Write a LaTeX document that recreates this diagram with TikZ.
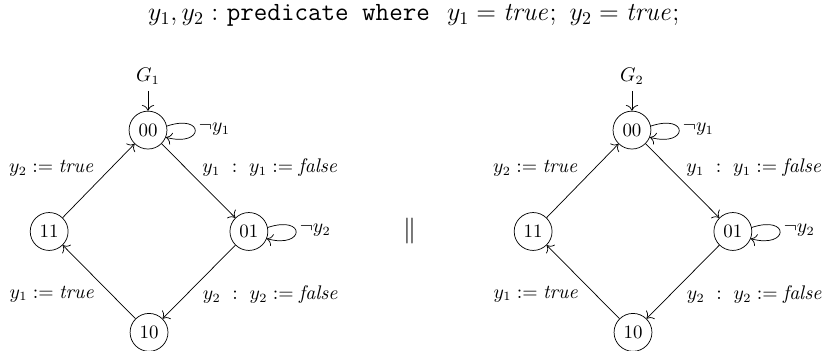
\documentclass[tikz,border=0pt]{standalone}
\usetikzlibrary{positioning, arrows.meta}

\begin{document}
\begin{tikzpicture}[>={To[scale=1.3]},
    every node/.style={font=\fontsize{10.5}{12.6}\selectfont},
    state/.style={circle, draw, thin, minimum size=0.74cm, inner sep=0pt},
    trans/.style={->, thin},
    lbl/.style={inner sep=2pt},
    big/.style={font=\fontsize{14.6}{17.5}\selectfont}]

    \useasboundingbox (0,0) rectangle (16.07,6.84);

    \node[big] (title) at (8.08, 6.54) {$y_1, y_2 :$ \texttt{predicate where}\ \ $y_1 = \mathit{true};\ y_2 = \mathit{true};$};

    % first component
    \node[state] (a00) at (2.89, 4.30) {00};
    \node[state] (a11) at (0.96, 2.32) {11};
    \node[state] (a01) at (4.86, 2.32) {01};
    \node[state] (a10) at (2.91, 0.35) {10};
    \node (g1) at (2.89, 5.35) {$G_1$};

    \draw[trans] (g1) -- (a00);
    \draw[trans] (a00) -- (a01) node[midway, above right, lbl] {$y_1\ :\ y_1 := \mathit{false}$};
    \draw[trans] (a01) -- (a10) node[midway, below right, lbl] {$y_2\ :\ y_2 := \mathit{false}$};
    \draw[trans] (a10) -- (a11) node[midway, below left, lbl] {$y_1 := \mathit{true}$};
    \draw[trans] (a11) -- (a00) node[midway, above left, lbl] {$y_2 := \mathit{true}$};
    \draw[trans] (a00.12) .. controls +(0.75,0.25) and +(0.75,-0.2) .. (a00.-22) node[pos=0.45, right, lbl] {$\neg y_1$};
    \draw[trans] (a01.12) .. controls +(0.75,0.25) and +(0.75,-0.2) .. (a01.-22) node[pos=0.45, right, lbl] {$\neg y_2$};

    \node[big] (par) at (8.0, 2.32) {$\|$};

    % second component
    \node[state] (b00) at (12.34, 4.30) {00};
    \node[state] (b11) at (10.41, 2.32) {11};
    \node[state] (b01) at (14.31, 2.32) {01};
    \node[state] (b10) at (12.36, 0.35) {10};
    \node (g2) at (12.34, 5.35) {$G_2$};

    \draw[trans] (g2) -- (b00);
    \draw[trans] (b00) -- (b01) node[midway, above right, lbl] {$y_1\ :\ y_1 := \mathit{false}$};
    \draw[trans] (b01) -- (b10) node[midway, below right, lbl] {$y_2\ :\ y_2 := \mathit{false}$};
    \draw[trans] (b10) -- (b11) node[midway, below left, lbl] {$y_1 := \mathit{true}$};
    \draw[trans] (b11) -- (b00) node[midway, above left, lbl] {$y_2 := \mathit{true}$};
    \draw[trans] (b00.12) .. controls +(0.75,0.25) and +(0.75,-0.2) .. (b00.-22) node[pos=0.45, right, lbl] {$\neg y_1$};
    \draw[trans] (b01.12) .. controls +(0.75,0.25) and +(0.75,-0.2) .. (b01.-22) node[pos=0.45, right, lbl] {$\neg y_2$};
\end{tikzpicture}
\end{document}
